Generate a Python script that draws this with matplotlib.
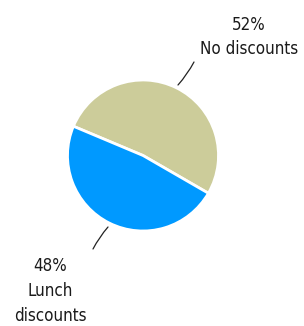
import matplotlib.pyplot as plt

labels = ["No discounts", "Lunch\ndiscounts"]
shares = [52, 48]
colors = ["#cccc9a", "#0099ff"]

plt.rcParams['font.family'] = ['DejaVu Sans']
plt.rcParams['font.stretch'] = 'condensed'

fig = plt.figure(figsize=(3.04, 3.26), dpi=100)
ax = fig.add_axes([0, 0, 1, 1])

wedges, _ = ax.pie(shares, colors=colors, startangle=-30, counterclock=True,
                   center=(143, 170.5), radius=75.5,
                   wedgeprops=dict(edgecolor='white', linewidth=2))
ax.set_xlim(0, 304)
ax.set_ylim(0, 326)
ax.axis('off')

line_style = dict(arrowstyle='-', color='#222222', lw=0.9, shrinkA=0, shrinkB=0,
                  connectionstyle='arc3,rad=-0.06')

# leader lines
ax.annotate("", xy=(178, 241), xytext=(194, 264), arrowprops=line_style)
ax.annotate("", xy=(108, 99), xytext=(93, 77), arrowprops=line_style)

# labels
ax.text(249, 289, f"{shares[0]}%\n{labels[0]}", ha='center', va='center',
        fontsize=12.2, color='#1a1a1a', linespacing=1.5)
ax.text(50, 35, f"{shares[1]}%\n{labels[1]}", ha='center', va='center',
        fontsize=12.2, color='#1a1a1a', linespacing=1.5)

fig.savefig("out.png", dpi=100)
